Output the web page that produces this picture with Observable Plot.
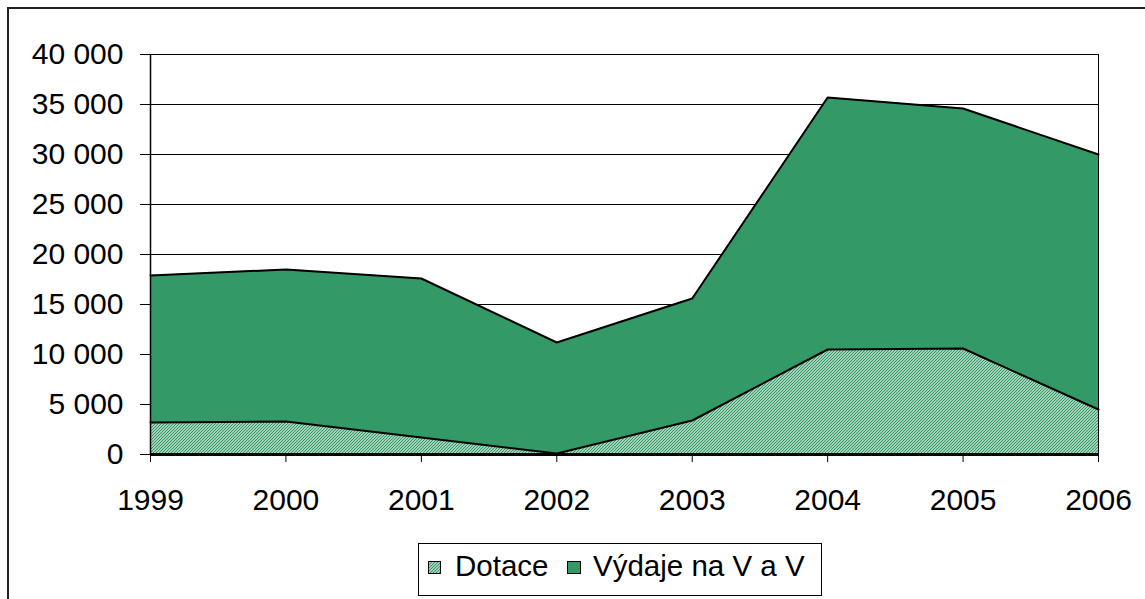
<!DOCTYPE html>
<html>
<head>
<meta charset="utf-8">
<script src="https://cdn.jsdelivr.net/npm/d3@7"></script>
<script src="https://cdn.jsdelivr.net/npm/@observablehq/plot@0.6"></script>
<style>
  html, body { margin: 0; padding: 0; background: #fff; overflow: hidden; }
  body { width: 1145px; height: 599px; position: relative; font-family: "Liberation Sans", Arial, sans-serif; }
  #frame { position: absolute; left: 7px; top: 7px; width: 2000px; height: 2000px; border: 2px solid #222; box-sizing: border-box; }
  #chart { position: absolute; left: 0; top: 0; }
  #legend { position: absolute; left: 418px; top: 543px; }
</style>
</head>
<body>
<svg width="0" height="0" style="position:absolute">
  <defs>
    <pattern id="hatch" patternUnits="userSpaceOnUse" width="3" height="3">
      <rect width="3" height="3" fill="#ffffff"/>
      <path d="M-1,1 l2,-2 M0,3 l3,-3 M2,4 l2,-2" stroke="#339966" stroke-width="1.3"/>
    </pattern>
  </defs>
</svg>
<div id="frame"></div>
<div id="chart"></div>
<svg id="legend" width="405" height="54">
  <rect x="0.5" y="0.5" width="403" height="52" fill="#fff" stroke="#000" stroke-width="1"/>
  <rect x="10.5" y="18.5" width="12" height="12" fill="url(#hatch)" stroke="#000" stroke-width="1"/>
  <text x="37" y="32.5" font-size="29.5" font-family="Liberation Sans, Arial, sans-serif" fill="#000">Dotace</text>
  <rect x="149.5" y="18.5" width="13" height="12" fill="#339966" stroke="#000" stroke-width="1"/>
  <text x="175" y="32.5" font-size="29.5" font-family="Liberation Sans, Arial, sans-serif" fill="#000">Výdaje na V a V</text>
</svg>
<script>
const years   = [1999, 2000, 2001, 2002, 2003, 2004, 2005, 2006];
const dotace  = [3200, 3300, 1700, 100, 3400, 10500, 10600, 4500];
const vydaje  = [14700, 15200, 15900, 11100, 12200, 25200, 24000, 25500];
const yTicks  = [0, 5000, 10000, 15000, 20000, 25000, 30000, 35000, 40000];

const rows = years.map((year, i) => ({
  year,
  dotace: dotace[i],
  total: dotace[i] + vydaje[i]
}));

const fmt = d => d3.format(",")(d).replace(/,/g, " ");

const chart = Plot.plot({
  width: 1145,
  height: 530,
  marginLeft: 150,
  marginRight: 47,
  marginTop: 54,
  marginBottom: 76,
  style: { fontFamily: "Liberation Sans, Arial, sans-serif", fontSize: "30px", color: "#000", background: "transparent", overflow: "visible" },
  x: { domain: [1999, 2006], ticks: years, tickFormat: d => String(d), label: null },
  y: { domain: [0, 40000], ticks: yTicks, tickFormat: fmt, label: null },
  marks: [
    Plot.ruleY(yTicks, { stroke: "#000", strokeWidth: 1 }),
    Plot.areaY(rows, { x: "year", y1: 0, y2: "dotace", fill: "url(#hatch)" }),
    Plot.areaY(rows, { x: "year", y1: "dotace", y2: "total", fill: "#339966" }),
    Plot.lineY(rows, { x: "year", y: "dotace", stroke: "#000", strokeWidth: 2 }),
    Plot.lineY(rows, { x: "year", y: "total", stroke: "#000", strokeWidth: 2 }),
    Plot.ruleX([2006], { stroke: "#000", strokeWidth: 1 }),
    Plot.ruleX([1999], { stroke: "#000", strokeWidth: 1.5 }),
    Plot.ruleY([0], { stroke: "#000", strokeWidth: 3 }),
    Plot.axisY({ ticks: yTicks, tickFormat: fmt, tickSize: 10, tickPadding: 17, stroke: "#000", fill: "#000", label: null }),
    Plot.axisX({ ticks: years, tickFormat: d => String(d), tickSize: 8, tickPadding: 26, stroke: "#000", fill: "#000", label: null })
  ]
});
document.getElementById("chart").appendChild(chart);
</script>
</body>
</html>
